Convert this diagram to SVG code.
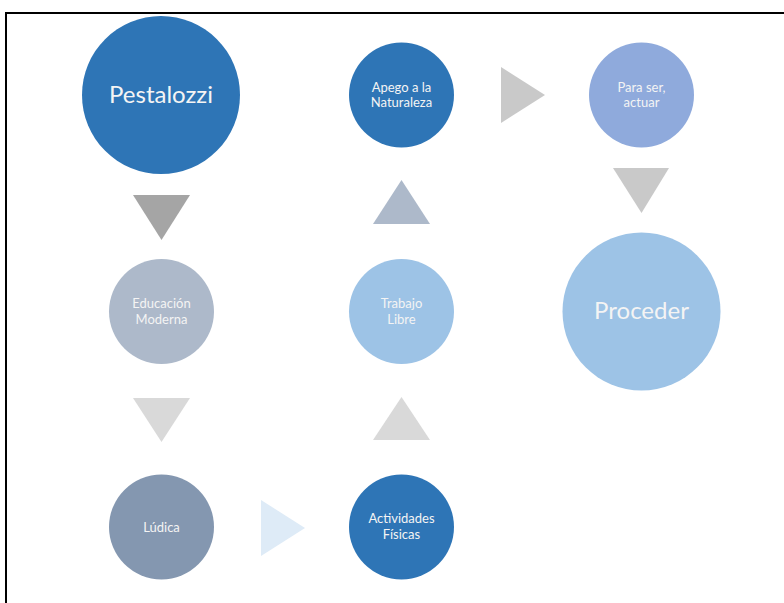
<svg xmlns="http://www.w3.org/2000/svg" width="784" height="603" viewBox="0 0 784 603">
<style>
.lbl{font-family:Lato,"Open Sans","Liberation Sans",sans-serif;fill:#f4f4f4;text-anchor:middle}
.big{font-size:24px}
.sm{font-size:13px}
</style>
<rect x="0" y="0" width="784" height="603" fill="#ffffff"/>
<path d="M6,603 V13 H784" fill="none" stroke="#000000" stroke-width="2"/>
<g id="connectors">
<polygon points="133,195 190,195 161.5,240" fill="#a5a5a5"/>
<polygon points="133,398 190,398 161.5,442" fill="#d9d9d9"/>
<polygon points="261,500 305,528 261,556" fill="#deebf7"/>
<polygon points="373,440 430,440 401.5,397" fill="#d9d9d9"/>
<polygon points="373,224 430,224 401.5,180" fill="#adb9ca"/>
<polygon points="501,67 545,95 501,123" fill="#c9c9c9"/>
<polygon points="613,168 669,168 641.5,213" fill="#c9c9c9"/>
</g>
<g id="pestalozzi">
<circle cx="161" cy="95" r="79" fill="#2e75b6"/>
<text class="lbl big" x="161" y="103">Pestalozzi</text>
</g>
<g id="educacion">
<circle cx="161.5" cy="311.5" r="52.5" fill="#adb9ca"/>
<text class="lbl sm" x="161.5" y="308">Educación</text>
<text class="lbl sm" x="161.5" y="323.5">Moderna</text>
</g>
<g id="ludica">
<circle cx="161.5" cy="527" r="52.5" fill="#8497b0"/>
<text class="lbl sm" x="161.5" y="532">Lúdica</text>
</g>
<g id="actividades">
<circle cx="401.5" cy="527" r="52.5" fill="#2e75b6"/>
<text class="lbl sm" x="401.5" y="523">Actividades</text>
<text class="lbl sm" x="401.5" y="539">Físicas</text>
</g>
<g id="trabajo">
<circle cx="401.5" cy="311.5" r="52.5" fill="#9dc3e6"/>
<text class="lbl sm" x="401.5" y="308">Trabajo</text>
<text class="lbl sm" x="401.5" y="323.5">Libre</text>
</g>
<g id="apego">
<circle cx="401.5" cy="95" r="52.5" fill="#2e75b6"/>
<text class="lbl sm" x="401.5" y="91.5">Apego a la</text>
<text class="lbl sm" x="401.5" y="107">Naturaleza</text>
</g>
<g id="paraser">
<circle cx="641.5" cy="95" r="52.5" fill="#8faadc"/>
<text class="lbl sm" x="641.5" y="91.5">Para ser,</text>
<text class="lbl sm" x="641.5" y="107">actuar</text>
</g>
<g id="proceder">
<circle cx="641.5" cy="311.5" r="79" fill="#9dc3e6"/>
<text class="lbl big" x="641.5" y="318.5">Proceder</text>
</g>
</svg>
